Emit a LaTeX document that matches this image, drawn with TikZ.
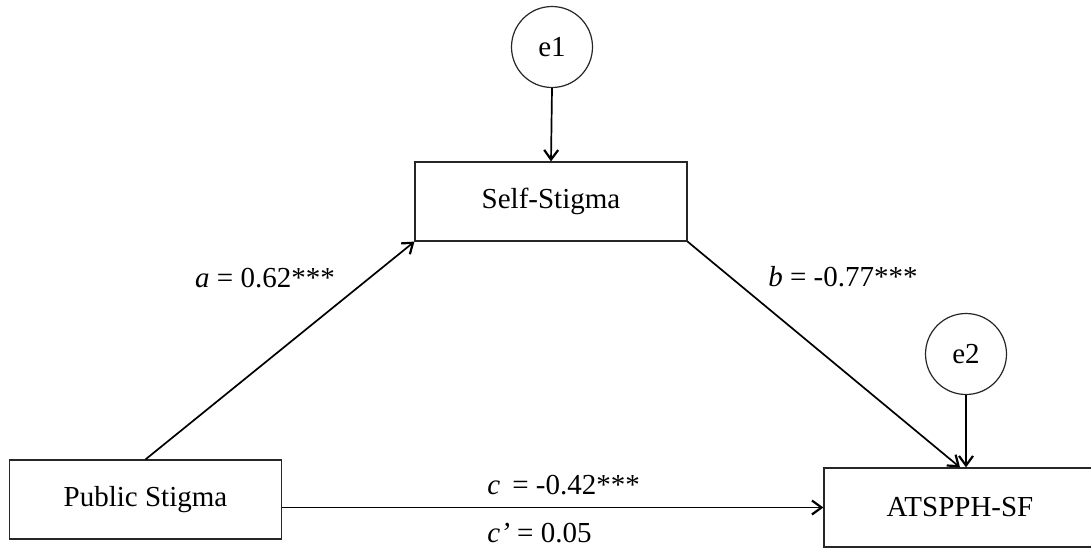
\documentclass[tikz,border=0pt]{standalone}
\usepackage{fontspec}
\setmainfont{Liberation Serif}
\usepackage{tikz}
\usetikzlibrary{arrows.meta,calc}
\newcommand{\bxW}{136pt}
\newcommand{\bxH}{39.5pt}
\newcommand{\errD}{40.5pt}
\tikzset{
  medfont/.style ={font=\fontsize{14.5}{17}\selectfont},
  obsbox/.style  ={draw=black!85,line width=0.6pt,inner sep=0pt,minimum width=\bxW,minimum height=\bxH,medfont},
  errcirc/.style ={circle,draw=black!85,line width=0.6pt,inner sep=0pt,minimum size=\errD,medfont},
  patharr/.style ={line width=0.85pt,-{Straight Barb[length=4.8pt,width=7pt,line width=1.1pt]}},
  coef/.style    ={inner sep=1pt,medfont},
}

\begin{document}
\begin{tikzpicture}[x=0.5pt,y=-0.5pt]
      \useasboundingbox (0,0) rectangle (1091,547);
      \clip (0,0) rectangle (1091,547);
      \node[obsbox] (pub) at (145.5,499.5) {Public Stigma};
      \node[obsbox] (self) at (551,201.5) {Self-Stigma};
      \node[obsbox] (att) at (960,507.5) {ATSPPH-SF};
      \node[errcirc] (e1) at (552,47) {e1};
      \node[errcirc] (e2) at (966,354) {e2};
      \draw[patharr] (e1.south) -- (self.north);
      \draw[patharr] (e2.south) -- (e2.south |- att.north);
      \draw[patharr] (pub.north) -- (self.south west);
      \draw[patharr] (self.south east) -- (att.north);
      \draw[patharr] (pub.east |- att.west) -- (att.west);
      % path coefficients
      \node[coef] (lbla) at (265,278) {\textit{a} = 0.62***};
      \node[coef] (lblb) at (843,277) {\textit{b} = -0.77***};
      \node[coef,anchor=west] (lblc) at (485,485) {\textit{c}\, = -0.42***};
      \node[coef,anchor=west] (lblcp) at (485,533) {\textit{c'} = 0.05};
    \end{tikzpicture}
\end{document}
